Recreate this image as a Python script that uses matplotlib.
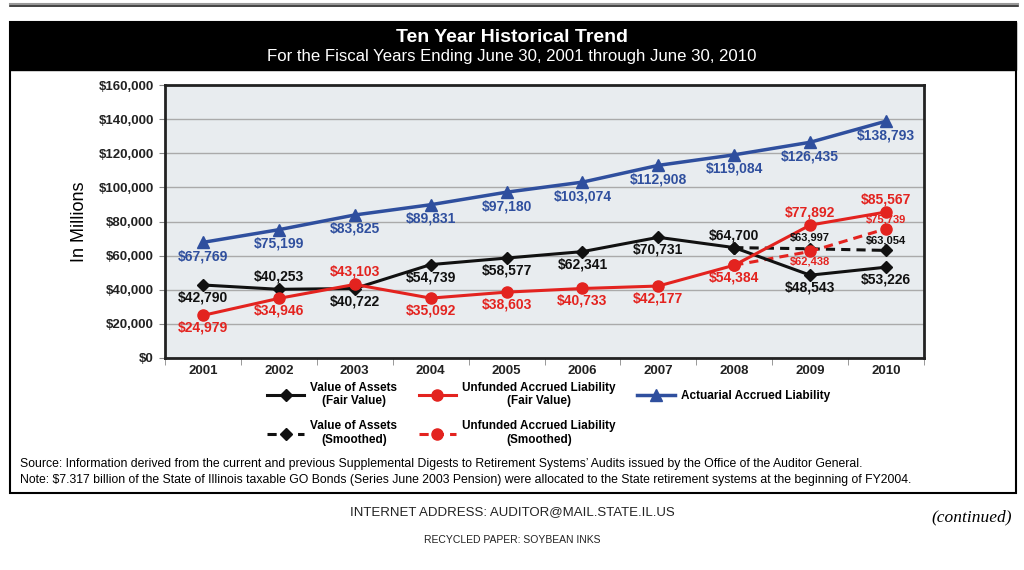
import matplotlib
matplotlib.use("Agg")
import matplotlib.pyplot as plt
from matplotlib.patches import Rectangle
from matplotlib.lines import Line2D
from matplotlib.ticker import FuncFormatter, MultipleLocator

plt.rcParams['font.family'] = ['Liberation Sans', 'DejaVu Sans']
NARROW = ['Liberation Sans Narrow', 'Liberation Sans', 'DejaVu Sans']

years = ['2001', '2002', '2003', '2004', '2005', '2006', '2007', '2008', '2009', '2010']
actuarial = [67769, 75199, 83825, 89831, 97180, 103074, 112908, 119084, 126435, 138793]
assets_fair = [42790, 40253, 40722, 54739, 58577, 62341, 70731, 64700, 48543, 53226]
unfunded_fair = [24979, 34946, 43103, 35092, 38603, 40733, 42177, 54384, 77892, 85567]
smooth_years = ['2008', '2009', '2010']
assets_smooth = [64700, 63997, 63054]
unfunded_smooth = [54384, 62438, 75739]

# label placement: +1 above the point, -1 below
blue_pos = [-1] * 10
black_pos = [-1, 1, -1, -1, -1, -1, -1, 1, -1, -1]
red_pos = [-1, -1, 1, -1, -1, -1, -1, -1, 1, 1]

BLUE = '#2f4f9e'
RED = '#e3231f'
BLACK = '#111111'

fig = plt.figure(figsize=(10.24, 5.70), dpi=100)
W, H = 1024, 570


def px(x0, y0, x1, y1):
    return (x0 / W, 1 - y1 / H, (x1 - x0) / W, (y1 - y0) / H)


# page decorations
fig.add_artist(Line2D([10 / W, 1018 / W], [1 - 4 / H, 1 - 4 / H], color='#999999', lw=1.5))
fig.add_artist(Line2D([10 / W, 1018 / W], [1 - 6 / H, 1 - 6 / H], color='#222222', lw=1.2))
x, y, w, h = px(10, 22, 1016, 493)
fig.add_artist(Rectangle((x, y), w, h, transform=fig.transFigure, fill=False, ec='black', lw=1.5))
x, y, w, h = px(10, 22, 1016, 70)
fig.add_artist(Rectangle((x, y), w, h, transform=fig.transFigure, fc='black', ec='black'))
fig.text(0.5, 1 - 38 / H, 'Ten Year Historical Trend', color='white', fontsize=14,
         fontweight='bold', ha='center', va='center', family=NARROW)
fig.text(0.5, 1 - 57 / H, 'For the Fiscal Years Ending June 30, 2001 through June 30, 2010',
         color='white', fontsize=12.1, ha='center', va='center', family=NARROW)

ax = fig.add_axes(px(165, 85, 924, 358))
ax.set_facecolor('#e8ecef')
xs = list(range(len(years)))
sx = [years.index(s) for s in smooth_years]

l_aa, = ax.plot(xs, actuarial, color=BLUE, lw=2.5, marker='^', ms=9, label='Actuarial Accrued Liability', zorder=3)
l_af, = ax.plot(xs, assets_fair, color=BLACK, lw=2.2, marker='D', ms=6, label='Value of Assets\n(Fair Value)', zorder=4)
l_uf, = ax.plot(xs, unfunded_fair, color=RED, lw=2.2, marker='o', ms=8, label='Unfunded Accrued Liability\n(Fair Value)', zorder=4)
l_as, = ax.plot(sx, assets_smooth, color=BLACK, lw=2.2, ls=(0, (3, 2)), marker='D', ms=6,
                label='Value of Assets\n(Smoothed)', zorder=3)
l_us, = ax.plot(sx, unfunded_smooth, color=RED, lw=2.2, ls=(0, (3, 2)), marker='o', ms=8,
                label='Unfunded Accrued Liability\n(Smoothed)', zorder=3)


def lab(xv, yv, pos, color, size=10, fam=None, off=9):
    ax.annotate('${:,}'.format(yv), (xv, yv), xytext=(0, off * pos), textcoords='offset points',
                ha='center', va='center', color=color, fontsize=size, fontweight='bold',
                family=fam if fam else ['Liberation Sans', 'DejaVu Sans'], zorder=5)


for i in xs:
    lab(i, actuarial[i], blue_pos[i], BLUE, off=10)
    lab(i, assets_fair[i], black_pos[i], BLACK)
    lab(i, unfunded_fair[i], red_pos[i], RED)
# smoothed labels (2008 shares the fair value point)
lab(sx[1], assets_smooth[1], 1, BLACK, size=8, fam=NARROW, off=8)
lab(sx[2], assets_smooth[2], 1, BLACK, size=8, fam=NARROW, off=7)
lab(sx[1], unfunded_smooth[1], -1, RED, size=8, fam=NARROW, off=7)
lab(sx[2], unfunded_smooth[2], 1, RED, size=8, fam=NARROW, off=7)

ax.set_xlim(-0.5, len(years) - 0.5)
ax.set_ylim(0, 160000)
ax.yaxis.set_major_locator(MultipleLocator(20000))
ax.yaxis.set_major_formatter(FuncFormatter(lambda v, p: '${:,.0f}'.format(v)))
ax.set_xticks(xs)
ax.set_xticklabels(years)
ax.set_xticks([i + 0.5 for i in xs[:-1]] + [-0.5, 9.5], minor=True)
ax.tick_params(axis='x', which='major', length=0, pad=5)
ax.tick_params(axis='x', which='minor', length=5, color='#888888')
ax.tick_params(axis='y', length=4, color='#888888', pad=4)
for t in ax.get_xticklabels() + ax.get_yticklabels():
    t.set_fontweight('bold')
    t.set_fontsize(9.5)
    t.set_color('#222222')
ax.grid(axis='y', color='#aaaaaa', lw=1)
ax.set_axisbelow(True)
for s in ax.spines.values():
    s.set_color('#222222')
    s.set_linewidth(2)
fig.text(80 / W, 1 - 222 / H, 'In Millions', rotation=90, ha='center', va='center', fontsize=13)

leg = fig.legend(handles=[l_af, l_as, l_uf, l_us, l_aa], ncol=3, loc='upper left',
                 bbox_to_anchor=(256 / W, 1 - 371 / H), frameon=False, handlelength=3.2,
                 columnspacing=1.8, labelspacing=1.1, handletextpad=0.5,
                 prop={'family': NARROW, 'weight': 'bold', 'size': 8.5})
for t in leg.get_texts():
    t.set_multialignment('center')

fig.text(20 / W, 1 - 464 / H, 'Source: Information derived from the current and previous Supplemental Digests to '
         'Retirement Systems\u2019 Audits issued by the Office of the Auditor General.',
         fontsize=8.8, va='center', family=NARROW)
fig.text(20 / W, 1 - 480 / H, 'Note: $7.317 billion of the State of Illinois taxable GO Bonds (Series June 2003 '
         'Pension) were allocated to the State retirement systems at the beginning of FY2004.',
         fontsize=8.8, va='center', family=NARROW)

fig.text(0.5, 1 - 512 / H, 'INTERNET ADDRESS: AUDITOR@MAIL.STATE.IL.US', ha='center', va='center',
         fontsize=9.5, color='#222222')
fig.text(1012 / W, 1 - 517 / H, '(continued)', ha='right', va='center', fontsize=12.5,
         style='italic', family=['Liberation Serif', 'DejaVu Serif'])
fig.text(0.5, 1 - 540 / H, 'RECYCLED PAPER: SOYBEAN INKS', ha='center', va='center',
         fontsize=7.5, color='#222222')

fig.savefig('out.png', dpi=100)
